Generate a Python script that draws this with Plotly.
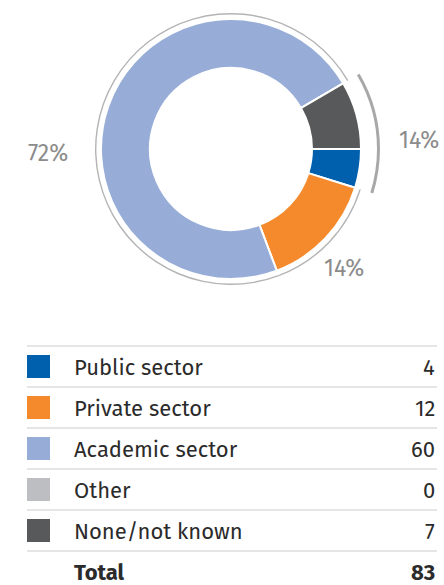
import plotly.graph_objects as go

# ---- data ----
categories = ["Public sector", "Private sector", "Academic sector", "Other", "None/not known"]
values = [4, 12, 60, 0, 7]
colors = ["#0060AE", "#F58A2C", "#97ADD7", "#BDBEC1", "#58595B"]
total_label = "Total"
total_value = 83
pct_labels = ["72%", "14%", "14%"]

W, H = 444, 585
cx, cy = 231, 149          # donut centre (px)
R_OUT, R_IN = 130, 81
R_RING = 136
R_BRACKET = 149


def dom(r):
    clamp = lambda v: min(1.0, max(0.0, v))
    return dict(x=[clamp((cx - r) / W), clamp((cx + r) / W)],
                y=[clamp(1 - (cy + r) / H), clamp(1 - (cy - r) / H)])


fig = go.Figure()

# main donut
fig.add_trace(go.Pie(
    labels=categories, values=values, sort=False, direction="clockwise", rotation=90,
    hole=R_IN / R_OUT, domain=dom(R_OUT),
    marker=dict(colors=colors, line=dict(color="white", width=2)),
    textinfo="none", hoverinfo="label+value", showlegend=False,
))

# thin outer ring (gap where bracket sits: public + none)
ring_cols = ["rgba(0,0,0,0)", "#B4B4B4", "#B4B4B4", "#B4B4B4", "rgba(0,0,0,0)"]
fig.add_trace(go.Pie(
    labels=categories, values=values, sort=False, direction="clockwise", rotation=90,
    hole=(R_RING - 1.4) / R_RING, domain=dom(R_RING),
    marker=dict(colors=ring_cols, line=dict(width=0)),
    textinfo="none", hoverinfo="skip", showlegend=False,
))

# bracket arc around public + none
br_cols = ["#A8A8A8", "rgba(0,0,0,0)", "rgba(0,0,0,0)", "rgba(0,0,0,0)", "#A8A8A8"]
fig.add_trace(go.Pie(
    labels=categories, values=values, sort=False, direction="clockwise", rotation=90,
    hole=(R_BRACKET - 3) / R_BRACKET, domain=dom(R_BRACKET),
    marker=dict(colors=br_cols, line=dict(width=0)),
    textinfo="none", hoverinfo="skip", showlegend=False,
))

FONT = "Fira Sans, Noto Sans, sans-serif"
pct_font = dict(family=FONT, size=23, color="#8C8C8C")
annotations = [
    dict(x=48, y=153, text=pct_labels[0], xref="x", yref="y", showarrow=False, font=pct_font),
    dict(x=344, y=268, text=pct_labels[1], xref="x", yref="y", showarrow=False, font=pct_font),
    dict(x=419, y=140, text=pct_labels[2], xref="x", yref="y", showarrow=False, font=pct_font),
]

shapes = []
x0, x1 = 27, 437
top = 346
row_h = 41
txt_font = dict(family=FONT, size=22, color="#2B2B2B")
for i in range(len(categories) + 1):
    shapes.append(dict(type="line", xref="x", yref="y", x0=x0, x1=x1, y0=top + row_h * i, y1=top + row_h * i,
                       line=dict(color="#CBCBCB", width=1.2)))
for i, (c, v, col) in enumerate(zip(categories, values, colors)):
    yc = top + row_h * i + row_h / 2
    shapes.append(dict(type="rect", xref="x", yref="y", x0=27, x1=50, y0=yc - 11.5, y1=yc + 11.5,
                       fillcolor=col, line=dict(width=0)))
    annotations.append(dict(x=72, y=yc + 1, text=c, xref="x", yref="y", xanchor="left", showarrow=False, font=txt_font))
    annotations.append(dict(x=x1, y=yc + 1, text=str(v), xref="x", yref="y", xanchor="right", showarrow=False, font=txt_font))
yc = top + row_h * len(categories) + row_h / 2
bold = dict(family=FONT, size=22, color="#2B2B2B", weight="bold")
annotations.append(dict(x=72, y=yc + 1, text="<b>%s</b>" % total_label, xref="x", yref="y", xanchor="left", showarrow=False, font=bold))
annotations.append(dict(x=x1, y=yc + 1, text="<b>%d</b>" % total_value, xref="x", yref="y", xanchor="right", showarrow=False, font=bold))

fig.update_layout(
    width=W, height=H, margin=dict(l=0, r=0, t=0, b=0),
    paper_bgcolor="white", plot_bgcolor="white",
    xaxis=dict(range=[0, W], visible=False, fixedrange=True),
    yaxis=dict(range=[H, 0], visible=False, fixedrange=True),
    shapes=shapes, annotations=annotations,
)
fig.write_html("out.html", config={"displayModeBar": False},
               post_script="document.body.style.margin='0';document.body.style.overflow='hidden';")
